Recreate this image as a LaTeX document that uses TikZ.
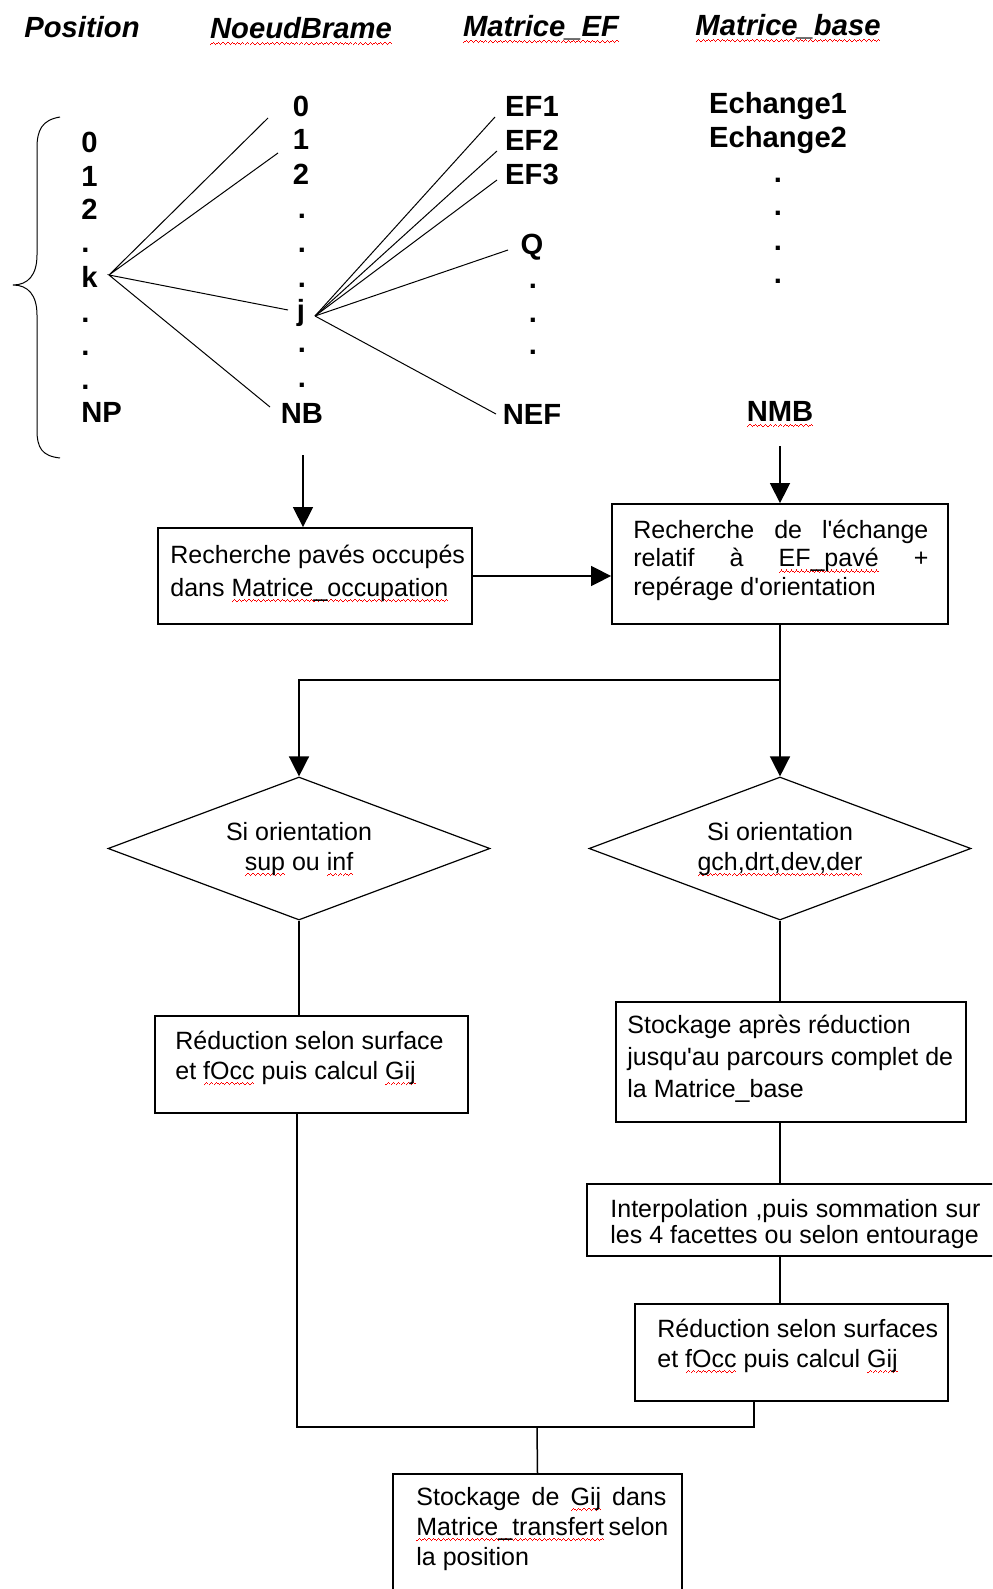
\documentclass[tikz,border=0pt]{standalone}
\usepackage{fontspec}
\usetikzlibrary{arrows.meta,shapes.geometric,calc}
\newfontfamily\diagfont{Liberation Sans}
% red zigzag spell-check underline, built from small rules
\newcommand\wavecell{\rule[-1.2pt]{0.6pt}{0.6pt}\rule[-0.6pt]{0.6pt}{0.6pt}\rule[0pt]{0.6pt}{0.6pt}\rule[-0.6pt]{0.6pt}{0.6pt}}
\newsavebox\spellbox
\newcommand\spell[1]{\sbox\spellbox{#1}\leavevmode\rlap{\lower2pt\hbox to\wd\spellbox{\color{red}\xleaders\hbox{\wavecell}\hfil}}\usebox\spellbox}
% justified line of a given width
\newcommand\jl[2]{\makebox[#1][s]{#2}}
\tikzset{
  hdr/.style={font={\diagfont\fontsize{14.6}{17}\selectfont\bfseries\itshape}, anchor=base, inner sep=0},
  col/.style={font={\diagfont\fontsize{14.6}{17}\selectfont\bfseries}, anchor=base, inner sep=0},
  colw/.style={col, anchor=base west},
  txt/.style={font={\diagfont\fontsize{12.5}{#1}\selectfont}, align=left, anchor=base west, inner sep=0},
  dtxt/.style={font={\diagfont\fontsize{12.5}{#1}\selectfont}, align=center, anchor=base, inner sep=0},
  box/.style={draw, line width=0.9pt, rectangle, inner sep=0},
  dec/.style={draw, line width=0.6pt, diamond, inner sep=0, minimum width=191pt, minimum height=71.5pt},
  fan/.style={line width=0.5pt},
  conn/.style={line width=0.75pt},
  arr/.style={conn, -{Triangle[length=10pt,width=10pt]}},
}
\begin{document}
\begin{tikzpicture}[x=0.5pt, y=-0.5pt]
\useasboundingbox (0,0) rectangle (992,1589);
\clip (0,0) rectangle (992,1589);

% column headers
\node[hdr] (hpos) at (82,38) {Position};
\node[hdr] (hnb) at (301,39) {\spell{NoeudBrame}};
\node[hdr] (hef) at (541,37) {\spell{Matrice\_EF}};
\node[hdr] (hmb) at (788,36) {\spell{Matrice\_base}};

% Position column
\node[colw] (p0) at (81,153) {0};
\node[colw] (p1) at (81,187) {1};
\node[colw] (p2) at (81,220) {2};
\node[colw] (pd1) at (81,252) {.};
\node[colw] (pk) at (81,287) {k};
\node[colw] (pd2) at (81,322) {.};
\node[colw] (pd3) at (81,355) {.};
\node[colw] (pd4) at (81,389) {.};
\node[colw] (pnp) at (81,422) {NP};

% NoeudBrame column
\node[col] (n0) at (301,117) {0};
\node[col] (n1) at (301,150) {1};
\node[col] (n2) at (301,185) {2};
\node[col] (nd1) at (302,219) {.};
\node[col] (nd2) at (302,252) {.};
\node[col] (nd3) at (302,287) {.};
\node[col] (nj) at (301,320) {j};
\node[col] (nd4) at (302,352) {.};
\node[col] (nd5) at (302,387) {.};
\node[col] (NB) at (302,423) {NB};

% Matrice_EF column
\node[col] (e1) at (532,117) {EF1};
\node[col] (e2) at (532,151) {EF2};
\node[col] (e3) at (532,185) {EF3};
\node[col] (eq) at (532,255) {Q};
\node[col] (ed1) at (533,288) {.};
\node[col] (ed2) at (533,322) {.};
\node[col] (ed3) at (533,354) {.};
\node[col] (nef) at (532,424) {NEF};

% Matrice_base column
\node[col] (m1) at (778,114) {Echange1};
\node[col] (m2) at (778,148) {Echange2};
\node[col] (md1) at (778,183) {.};
\node[col] (md2) at (778,216) {.};
\node[col] (md3) at (778,250) {.};
\node[col] (md4) at (778,284) {.};
\node[col] (NMB) at (780,421) {\spell{NMB}};

% brace grouping the positions
\draw[fan] (60,117) .. controls (42,120) and (37,130) .. (37,148) -- (37,255)
  .. controls (37,275) and (28,285) .. (13,285)
  .. controls (28,285) and (37,295) .. (37,315) -- (37,430)
  .. controls (37,448) and (42,456) .. (60,458);

% links from position k and from node j
\coordinate (kx) at (109,275);
\coordinate (k0) at (268,118);
\coordinate (k1) at (278,153);
\coordinate (kj) at (288,310);
\coordinate (knb) at (270,407);
\coordinate (jx) at (315,316);
\coordinate (j1) at (495,117);
\coordinate (j2) at (497,151);
\coordinate (j3) at (497,180);
\coordinate (jq) at (508,250);
\coordinate (jn) at (496,414);
\draw[fan] (k0) -- (kx) -- (k1);
\draw[fan] (kj) -- (kx) -- (knb);
\draw[fan] (jx) -- (j1);
\draw[fan] (jx) -- (j2);
\draw[fan] (jx) -- (j3);
\draw[fan] (jx) -- (jq);
\draw[fan] (jx) -- (jn);

% process boxes
\node[box, minimum width=157pt, minimum height=48pt] (b1) at (315,576) {};
\node[box, minimum width=168pt, minimum height=60pt] (b2) at (780,564) {};
\node[dec] (d1) at (299,848.5) {};
\node[dec] (d2) at (780,848.5) {};
\node[box, minimum width=156.5pt, minimum height=48.5pt] (r1) at (311.5,1064.5) {};
\node[box, minimum width=175pt, minimum height=60pt] (st) at (791,1062) {};
\node[box, minimum width=216.5pt, minimum height=36pt] (ip) at (803.5,1220) {};
\node[box, minimum width=156.5pt, minimum height=48.5pt] (r2) at (791.5,1352.5) {};
\node[box, minimum width=144.5pt, minimum height=73pt] (fin) at (537.5,1547) {};

% box texts (anchored on the baseline of their last line)
\node[txt=16.5pt] (b1t) at (170,596) {Recherche pavés occupés\\dans \spell{Matrice\_occupation}};
\node[txt=14.25pt] (b2t) at (633,595) {\jl{147.5pt}{Recherche de l'échange}\\\jl{147.5pt}{relatif à \spell{EF\_pavé} +}\\repérage d'orientation};
\node[dtxt=15pt] (d1t) at (299,870) {Si orientation\\\spell{sup} ou \spell{inf}};
\node[dtxt=15pt] (d2t) at (780,870) {Si orientation\\\spell{gch,drt,dev,der}};
\node[txt=15pt] (r1t) at (175,1079) {Réduction selon surface\\et \spell{fOcc} puis calcul \spell{Gij}};
\node[txt=16pt] (stt) at (627,1097) {Stockage après réduction\\jusqu'au parcours complet de\\la Matrice\_base};
\node[txt=13pt] (ipt) at (610,1243) {\jl{185pt}{Interpolation ,puis sommation sur}\\les 4 facettes ou selon entourage};
\node[txt=15pt] (r2t) at (657,1367) {Réduction selon surfaces\\et \spell{fOcc} puis calcul \spell{Gij}};
\node[txt=15pt] (fint) at (416,1565) {\jl{125pt}{Stockage de \spell{Gij} dans}\\\jl{125pt}{\spell{Matrice\_transfert} selon}\\la position};

% flow connectors
\coordinate (nbout) at (303,455);
\coordinate (nmbout) at (780,446);
\coordinate (split) at (780,680);
\coordinate (joinR) at (754,1427);
\coordinate (joinL) at (297,1427);
\coordinate (join) at (537,1427);
\draw[arr] (nbout) -- (nbout |- b1.north);
\draw[arr] (nmbout) -- (b2.north);
\draw[arr] (b1.east) -- (b1.east -| b2.west);
\draw[conn] (b2.south) -- (split);
\draw[arr] (split) -- (d2.north);
\draw[arr] (split) -| (d1.north);
\draw[conn] (d1.south) -- (d1.south |- r1.north);
\draw[conn] (d2.south) -- (d2.south |- st.north);
\draw[conn] (d2.south |- st.south) -- (d2.south |- ip.north);
\draw[conn] (d2.south |- ip.south) -- (d2.south |- r2.north);
\draw[conn] (joinR |- r2.south) -- (joinR) -- (joinL) -- (joinL |- r1.south);
\draw[conn] (join) -- (fin.north);
\end{tikzpicture}
\end{document}
